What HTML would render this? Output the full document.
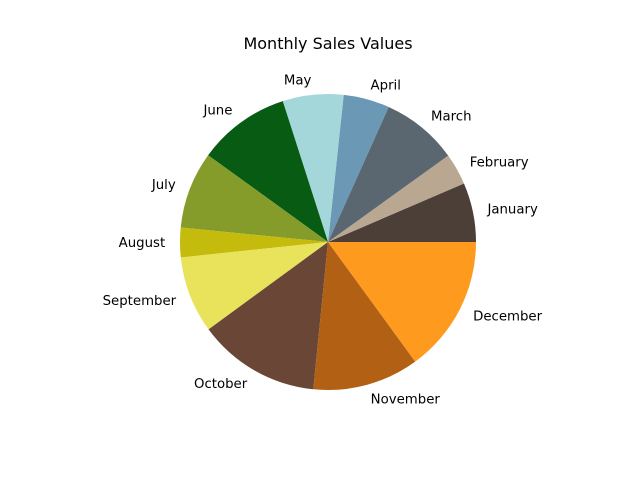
<!DOCTYPE html>
<html><head><meta charset="utf-8"><style>
body{margin:0;background:#fff}
svg{display:block;font-family:"DejaVu Sans","Liberation Sans",sans-serif}
</style></head><body>
<svg id="chart" width="640" height="480">
<rect width="640" height="480" fill="#fff"/>
<text x="328" y="49" font-size="16" text-anchor="middle" fill="#000">Monthly Sales Values</text>
<g id="slices"></g><g id="labels"></g>
</svg>
<script>
const categories=["January","February","March","April","May","June","July","August","September","October","November","December"];
const values=[23.3,12.4,30.1,18.1,23.9,36.3,30.3,11.6,30.2,48.1,41.8,53.9];
const colors=["#4c3f37","#b9a791","#5a6770","#6b98b5","#a4d7d9","#085b13","#859c2b","#c4bb0d","#e8e35b","#6a4637","#b26013","#fe9b1e"];
const cx=328,cy=242,r=148;
const NS="http://www.w3.org/2000/svg";
const total=values.reduce((a,b)=>a+b,0);
const gs=document.getElementById("slices"),gl=document.getElementById("labels");
let a0=0;
values.forEach((v,i)=>{
  const a1=a0+v/total*2*Math.PI;
  const x0=cx+r*Math.cos(a0),y0=cy-r*Math.sin(a0),x1=cx+r*Math.cos(a1),y1=cy-r*Math.sin(a1);
  const p=document.createElementNS(NS,"path");
  p.setAttribute("d",`M${cx},${cy}L${x0},${y0}A${r},${r} 0 ${a1-a0>Math.PI?1:0} 0 ${x1},${y1}Z`);
  p.setAttribute("fill",colors[i]);
  
  
  gs.appendChild(p);
  const m=(a0+a1)/2,lx=cx+1.1*r*Math.cos(m),ly=cy-1.1*r*Math.sin(m);
  const t=document.createElementNS(NS,"text");
  t.setAttribute("x",lx);t.setAttribute("y",ly+4.5);
  t.setAttribute("font-size","13.3");
  t.setAttribute("text-anchor",Math.cos(m)>=0?"start":"end");
  t.textContent=categories[i];
  
  
  gl.appendChild(t);
  a0=a1;
});
</script>
</body></html>
